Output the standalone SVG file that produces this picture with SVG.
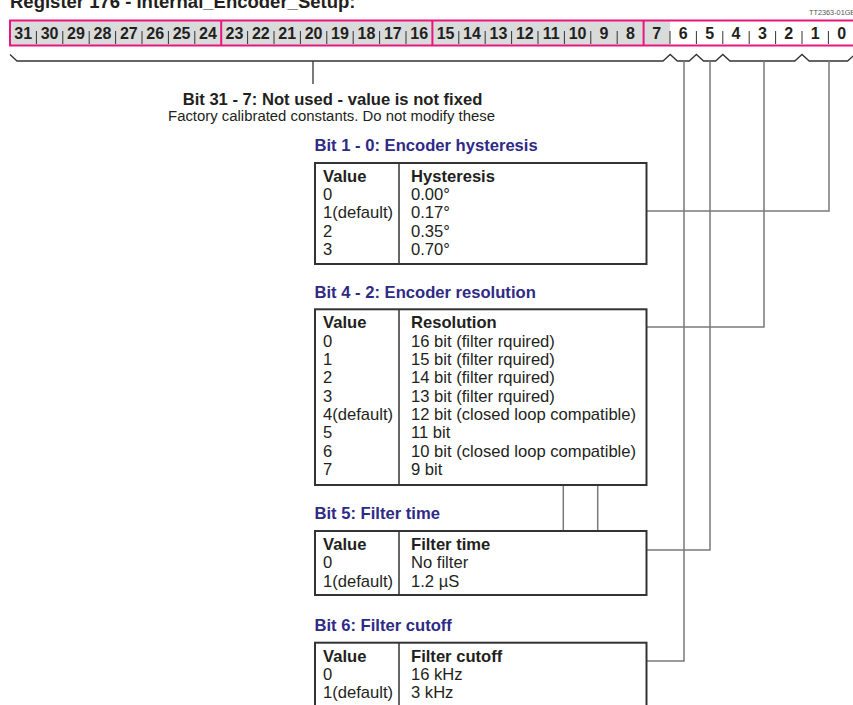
<svg xmlns="http://www.w3.org/2000/svg" width="853" height="705" viewBox="0 0 853 705">
<style>
text{font-family:"Liberation Sans",Arial,sans-serif;fill:#231f20}
.reg{font-size:16px;font-weight:bold;text-anchor:middle}
.ttl{font-size:16.6px;font-weight:bold;fill:#2e2a86}
.hd{font-size:16.6px;font-weight:bold}
.tx{font-size:16.6px}
.tbl{fill:#fff;stroke:#333;stroke-width:2}
.div{stroke:#333;stroke-width:1.5}
.con{fill:none;stroke:#7a7a7a;stroke-width:1.5}
.brace{fill:none;stroke:#333;stroke-width:1.3}
.pink{stroke:#e8177f;stroke-width:2}
</style>
<rect width="853" height="705" fill="#fff"/>
<text x="10" y="8" style="font-size:18.5px;font-weight:bold">Register 176 - Internal_Encoder_Setup:</text>
<text x="809" y="14.5" style="font-size:7.3px;fill:#555">TT2363-01GB</text>

<g id="register">
  <rect x="10" y="21" width="660" height="24" fill="#d9dada"/>
  <rect x="670" y="21" width="186" height="24" fill="#fff"/>
  <path d="M36.4,31V44M62.8,31V44M89.2,31V44M115.6,31V44M142,31V44M168.4,31V44M194.8,31V44M247.6,31V44M274,31V44M300.4,31V44M326.8,31V44M353.2,31V44M379.6,31V44M406,31V44M458.8,31V44M485.2,31V44M511.6,31V44M538,31V44M564.4,31V44M590.8,31V44M617.2,31V44M670,31V44M696.4,31V44M722.8,31V44M749.2,31V44M775.6,31V44M802,31V44M828.4,31V44" stroke="#333" stroke-width="1"/>
  <rect x="10" y="20.5" width="846" height="25" fill="none" class="pink"/>
  <path d="M221.2,20.5V45.5M432.4,20.5V45.5M643.6,20.5V45.5" class="pink"/>
  <text class="reg" x="23.2" y="39">31</text>
  <text class="reg" x="49.6" y="39">30</text>
  <text class="reg" x="76" y="39">29</text>
  <text class="reg" x="102.4" y="39">28</text>
  <text class="reg" x="128.8" y="39">27</text>
  <text class="reg" x="155.2" y="39">26</text>
  <text class="reg" x="181.6" y="39">25</text>
  <text class="reg" x="208" y="39">24</text>
  <text class="reg" x="234.4" y="39">23</text>
  <text class="reg" x="260.8" y="39">22</text>
  <text class="reg" x="287.2" y="39">21</text>
  <text class="reg" x="313.6" y="39">20</text>
  <text class="reg" x="340" y="39">19</text>
  <text class="reg" x="366.4" y="39">18</text>
  <text class="reg" x="392.8" y="39">17</text>
  <text class="reg" x="419.2" y="39">16</text>
  <text class="reg" x="445.6" y="39">15</text>
  <text class="reg" x="472" y="39">14</text>
  <text class="reg" x="498.4" y="39">13</text>
  <text class="reg" x="524.8" y="39">12</text>
  <text class="reg" x="551.2" y="39">11</text>
  <text class="reg" x="577.6" y="39">10</text>
  <text class="reg" x="604" y="39">9</text>
  <text class="reg" x="630.4" y="39">8</text>
  <text class="reg" x="656.8" y="39">7</text>
  <text class="reg" x="683.2" y="39">6</text>
  <text class="reg" x="709.6" y="39">5</text>
  <text class="reg" x="736" y="39">4</text>
  <text class="reg" x="762.4" y="39">3</text>
  <text class="reg" x="788.8" y="39">2</text>
  <text class="reg" x="815.2" y="39">1</text>
  <text class="reg" x="841.6" y="39">0</text>
</g>

<g id="connectors">
  <path class="brace" d="M10,54.5L17,61H663L670.2,54.5L677.4,61H689.2L696.4,54.5L703.6,61H715.6L722.8,54.5L730,61H794.8L802,54.5L809.2,61H847.6L854.8,54.5"/>
  <path class="brace" d="M313,61V84"/>
  <path class="con" d="M684,61V661H646.5"/>
  <path class="con" d="M710,61V550H646.5"/>
  <path class="con" d="M764,61V327H646.5"/>
  <path class="con" d="M829,61V211H646.5"/>
  <path class="con" d="M563.3,485V531M597.7,485V531"/>
</g>

<g id="unused">
  <text x="332.5" y="105" style="font-size:16.6px;font-weight:bold;text-anchor:middle">Bit 31 - 7: Not used - value is not fixed</text>
  <text x="331.5" y="121" style="font-size:14.9px;text-anchor:middle">Factory calibrated constants. Do not modify these</text>
</g>

<g id="hysteresis">
  <text class="ttl" x="314.5" y="151">Bit 1 - 0: Encoder hysteresis</text>
  <rect class="tbl" x="315" y="163" width="331.5" height="101"/>
  <path class="div" d="M399,163V264"/>
  <text class="hd" x="323" y="181.7">Value</text>
  <text class="hd" x="411" y="181.7">Hysteresis</text>
  <text class="tx" x="323" y="200">0</text><text class="tx" x="411" y="200">0.00°</text>
  <text class="tx" x="323" y="218.3">1(default)</text><text class="tx" x="411" y="218.3">0.17°</text>
  <text class="tx" x="323" y="236.7">2</text><text class="tx" x="411" y="236.7">0.35°</text>
  <text class="tx" x="323" y="255">3</text><text class="tx" x="411" y="255">0.70°</text>
</g>

<g id="resolution">
  <text class="ttl" x="314.5" y="298">Bit 4 - 2: Encoder resolution</text>
  <rect class="tbl" x="315" y="309.3" width="331.5" height="175.7"/>
  <path class="div" d="M399,309.3V485"/>
  <text class="hd" x="323" y="328.3">Value</text>
  <text class="hd" x="411" y="328.3">Resolution</text>
  <text class="tx" x="323" y="346.7">0</text><text class="tx" x="411" y="346.7">16 bit (filter rquired)</text>
  <text class="tx" x="323" y="365">1</text><text class="tx" x="411" y="365">15 bit (filter rquired)</text>
  <text class="tx" x="323" y="383.3">2</text><text class="tx" x="411" y="383.3">14 bit (filter rquired)</text>
  <text class="tx" x="323" y="401.7">3</text><text class="tx" x="411" y="401.7">13 bit (filter rquired)</text>
  <text class="tx" x="323" y="420">4(default)</text><text class="tx" x="411" y="420">12 bit (closed loop compatible)</text>
  <text class="tx" x="323" y="438.3">5</text><text class="tx" x="411" y="438.3">11 bit</text>
  <text class="tx" x="323" y="456.7">6</text><text class="tx" x="411" y="456.7">10 bit (closed loop compatible)</text>
  <text class="tx" x="323" y="475">7</text><text class="tx" x="411" y="475">9 bit</text>
</g>

<g id="filtertime">
  <text class="ttl" x="314.5" y="519.3">Bit 5: Filter time</text>
  <rect class="tbl" x="315" y="531" width="331.5" height="64"/>
  <path class="div" d="M399,531V595"/>
  <text class="hd" x="323" y="550">Value</text>
  <text class="hd" x="411" y="550">Filter time</text>
  <text class="tx" x="323" y="568.3">0</text><text class="tx" x="411" y="568.3">No filter</text>
  <text class="tx" x="323" y="586.7">1(default)</text><text class="tx" x="411" y="586.7">1.2 µS</text>
</g>

<g id="filtercutoff">
  <text class="ttl" x="314.5" y="630.7">Bit 6: Filter cutoff</text>
  <rect class="tbl" x="315" y="642.7" width="331.5" height="70"/>
  <path class="div" d="M399,642.7V712"/>
  <text class="hd" x="323" y="661.7">Value</text>
  <text class="hd" x="411" y="661.7">Filter cutoff</text>
  <text class="tx" x="323" y="680">0</text><text class="tx" x="411" y="680">16 kHz</text>
  <text class="tx" x="323" y="698.3">1(default)</text><text class="tx" x="411" y="698.3">3 kHz</text>
</g>
</svg>
